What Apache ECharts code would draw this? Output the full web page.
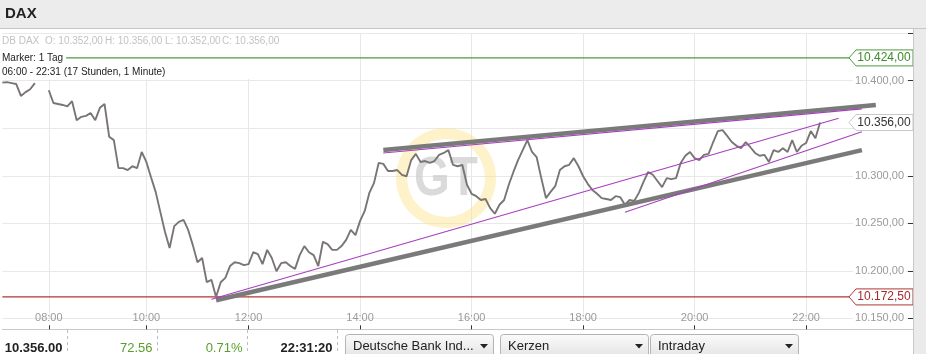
<!DOCTYPE html>
<html><head><meta charset="utf-8">
<script src="https://cdn.jsdelivr.net/npm/echarts@6/dist/echarts.min.js"></script>
<style>html,body{margin:0;padding:0;background:#fff}#c{width:926px;height:354px}</style>
</head><body><div id="c"></div>
<script>
// ---- data ----
// axis segments: [start, end, number of category slots]
const timeSegments = [['06:00','08:00',10],['08:00','10:00',21],['10:00','12:00',22],['12:00','24:00',144]];
const hourLabels = ['08:00','10:00','12:00','14:00','16:00','18:00','20:00','22:00'];
const priceValues = [
10398,10398.5,10397.5,10396.5,10384,10388,10391,10397.5,null,null,
10390,10376.5,10375.5,10374.5,10373,10378.5,10358.5,10362,10363,10366,
10358.5,10371.5,10375.5,10341,10337.5,10308,10308,10306,10310,10308,
10325,10314.5,10298.5,10283,10262,10241,10224,10247,10251.5,10253.5,
10243,10227,10209,10213.5,10188,10190.5,10172.5,10188,10192.5,10205,
10209,10208,10206,10207,10219.5,10217.5,10207,10222,10213.5,10199.5,
10208,10209,10205,10202,10216.5,10226,10219.5,10216.5,10205,10230.5,
10228,10222,10222,10226,10232.5,10243,10237.5,10252.5,10263,10282,
10292.5,10313.5,10312.5,10305,10305,10306,10301,10299.5,10316.5,10323,
10314.5,10315.5,10313.5,10315.5,10322,10324,10327,10311.5,10310,10311.5,
10290.5,10281,10278.5,10274.5,10275.5,10266,10260,10269.5,10274.5,10290.5,
10304,10316.5,10327,10337.5,10325,10319.5,10297.5,10276.5,10283,10289,
10306,10310,10311.5,10318.5,10310,10299.5,10291.5,10285,10281,10276.5,
10275.5,10274.5,10278.5,10277.5,10269.5,10274.5,10273.5,10282,10293.5,10304,
10301,10294.5,10288,10297.5,10296.5,10297.5,10313.5,10321,10325,10318.5,
10316.5,10322,10323,10335.5,10347,10348,10342,10335.5,10331.5,10329,
10335.5,10330,10324,10321,10322,10314.5,10327,10325,10329,10325,
10337.5,10325,10331.5,10334.5,10347,10339.5,10356
];
// trend lines: [categoryIndex, price] pairs
const thickLower = [[46,10169],[185,10327]];
const thickUpper = [[82,10327],[188,10374.4]];
const purpleA = [[82,10324],[185,10370.4]];
const purpleB = [[45,10170],[180,10360.5]];
const purpleC = [[134,10261.6],[185,10346.4]];
const markerHigh = 10424;
const markerLow = 10172.5;
const lastPrice = 10356;
const yMin = 10150, yMax = 10450, yStep = 50;
const hiddenYLabels = [10350, 10450];
const headerInfo = ['DB DAX','O: 10.352,00','H: 10.356,00','L: 10.352,00','C: 10.356,00'];
const footerValues = ['10.356.00','72.56','0.71%','22:31:20'];
const dropdowns = ['Deutsche Bank Ind...','Kerzen','Intraday'];

// ---- build categories ----
function toMin(s){const p=s.split(':');return (+p[0])*60+(+p[1]);}
function fmtT(m){m=Math.round(m);const h=Math.floor(m/60)%24,mm=m%60;return (h<10?'0':'')+h+':'+(mm<10?'0':'')+mm;}
const categories=[];
timeSegments.forEach(([a,b,n])=>{const s=toMin(a),e=toMin(b);for(let i=0;i<n;i++)categories.push(fmtT(s+(e-s)*i/n));});
function de(v){const s=v.toFixed(2).split('.');return s[0].replace(/\B(?=(\d{3})+(?!\d))/g,'.')+','+s[1];}
const isHour=(i,v)=>hourLabels.indexOf(v)>=0;
const FONT='"Liberation Sans", Arial, sans-serif';

const chart = echarts.init(document.getElementById('c'));
const lastIdx = categories.length-1;
chart.setOption({
  animation:false,
  grid:{left:2.33,right:13,top:33.2,bottom:35.7},
  xAxis:{type:'category',data:categories,boundaryGap:false,offset:11,
    axisLine:{lineStyle:{color:'#c8c8c8'}},
    axisTick:{inside:true,length:4,interval:isHour,lineStyle:{color:'#333'}},
    axisLabel:{inside:true,interval:isHour,margin:6,color:'#9a9a9a',fontSize:11,fontFamily:FONT},
    splitLine:{show:true,interval:isHour,lineStyle:{color:'#e8e8e8'}}},
  yAxis:{type:'value',position:'right',min:yMin,max:yMax,interval:yStep,
    axisLine:{show:false},
    axisTick:{show:true,inside:true,length:5,lineStyle:{color:'#333'}},
    axisLabel:{inside:true,margin:7,color:'#9a9a9a',fontSize:11,fontFamily:FONT,backgroundColor:'#fff',padding:[0,2],
      formatter:v=>hiddenYLabels.indexOf(v)>=0?'':de(v)},
    splitLine:{lineStyle:{color:'#e8e8e8'}}},
  series:[
    {type:'line',data:[[0,markerLow],[lastIdx,markerLow]],symbol:'none',lineStyle:{color:'#b03535',width:1.2},z:2},
    {type:'line',data:[[0,markerHigh],[lastIdx,markerHigh]],symbol:'none',lineStyle:{color:'#4f9a3c',width:1.2},z:3},
    {type:'line',data:priceValues,symbol:'none',connectNulls:false,lineStyle:{color:'#7a7575',width:1.9},z:4},
    {type:'line',data:thickLower,symbol:'none',lineStyle:{color:'#7a7a7a',width:4.5},z:5},
    {type:'line',data:thickUpper,symbol:'none',lineStyle:{color:'#7a7a7a',width:4.5},z:5},
    {type:'line',data:purpleA,symbol:'none',lineStyle:{color:'#a83fbf',width:1.1},z:6},
    {type:'line',data:purpleB,symbol:'none',lineStyle:{color:'#a83fbf',width:1.1},z:6},
    {type:'line',data:purpleC,symbol:'none',lineStyle:{color:'#a83fbf',width:1.1},z:6}
  ]
});

function marker(value,stroke,color){
  const y=chart.convertToPixel({yAxisIndex:0},value);
  return [
    {type:'polygon',shape:{points:[[849,y],[856,y-8],[913,y-8],[913,y+8],[856,y+8]]},style:{fill:'#fff',stroke:stroke,lineWidth:1},z:50},
    {type:'text',style:{x:884,y:y,text:de(value),fill:color,font:'12px '+FONT,align:'center',verticalAlign:'middle'},z:51}
  ];
}
const headerX=[2,45,105,165,222];
const g=[
  {type:'ring',shape:{cx:446,cy:178,r:50,r0:39},style:{fill:'rgba(253,226,140,0.45)'},z:1},
  {type:'text',x:446,y:180,scaleX:0.82,style:{x:0,y:0,text:'GT',fill:'rgba(205,205,205,0.75)',font:'bold 56px '+FONT,align:'center',verticalAlign:'middle'},z:1},
  {type:'rect',shape:{x:0,y:34,width:285,height:45},style:{fill:'#fff'},z:1},
  {type:'rect',shape:{x:0,y:0,width:926,height:28},style:{fill:'#ececec'},z:100},
  {type:'line',shape:{x1:0,y1:28.5,x2:926,y2:28.5},style:{stroke:'#c6c6c6',lineWidth:1},z:100},
  {type:'text',style:{x:5,y:14,text:'DAX',fill:'#222',font:'bold 15px '+FONT,verticalAlign:'middle'},z:101},
  {type:'rect',shape:{x:914,y:29,width:12,height:325},style:{fill:'#ebebeb'},z:100},
  {type:'line',shape:{x1:913.5,y1:29,x2:913.5,y2:354},style:{stroke:'#c8c8c8',lineWidth:1},z:100},
  {type:'text',style:{x:2,y:58,text:'Marker: 1 Tag',fill:'#222',font:'10px '+FONT,verticalAlign:'middle',backgroundColor:'#fff',padding:[2,3,2,0]},z:60},
  {type:'text',style:{x:2,y:72.5,text:'06:00 - 22:31 (17 Stunden, 1 Minute)',fill:'#222',font:'10px '+FONT,verticalAlign:'middle',backgroundColor:'#fff',padding:[2,4,2,0]},z:60},
  ...headerInfo.map((t,i)=>({type:'text',style:{x:headerX[i],y:41.5,text:t,fill:'#c2c2c2',font:'10px '+FONT,verticalAlign:'middle'},z:60})),
  ...marker(markerHigh,'#4f9a3c','#3d8a2a'),
  ...marker(lastPrice,'#c8c8c8','#333'),
  ...marker(markerLow,'#b03535','#a52a2a'),
  {type:'rect',shape:{x:0,y:330,width:913,height:24},style:{fill:'#fff'},z:40}
];
// footer separators and values
[67.5,157.5,247.5,337.5].forEach((x,i)=>{
  g.push({type:'line',shape:{x1:x,y1:330,x2:x,y2:354},style:{stroke:'#bdbdbd',lineWidth:1,lineDash:[3,3]},z:41});
  const col=(i===1||i===2)?'#5a9e2c':'#222';
  g.push({type:'text',style:{x:x-5,y:348.5,text:footerValues[i],fill:col,font:(i===1||i===2?'':'bold ')+'13px '+FONT,align:'right',verticalAlign:'middle'},z:42});
});
const btnX=[345,500,650];
dropdowns.forEach((t,i)=>{
  const x=btnX[i];
  g.push({type:'rect',shape:{x:x+0.5,y:334.5,width:148,height:24,r:3},style:{fill:new echarts.graphic.LinearGradient(0,0,0,1,[{offset:0,color:'#fbfbfb'},{offset:1,color:'#e2e2e2'}]),stroke:'#b4b4b4',lineWidth:1},z:41});
  g.push({type:'text',style:{x:x+8,y:346.5,text:t,fill:'#222',font:'13px '+FONT,verticalAlign:'middle'},z:42});
  const cx=x+139;
  g.push({type:'polygon',shape:{points:[[cx-4,344],[cx+4,344],[cx,348.5]]},style:{fill:'#222'},z:42});
});
chart.setOption({graphic:{elements:g}});
</script></body></html>
